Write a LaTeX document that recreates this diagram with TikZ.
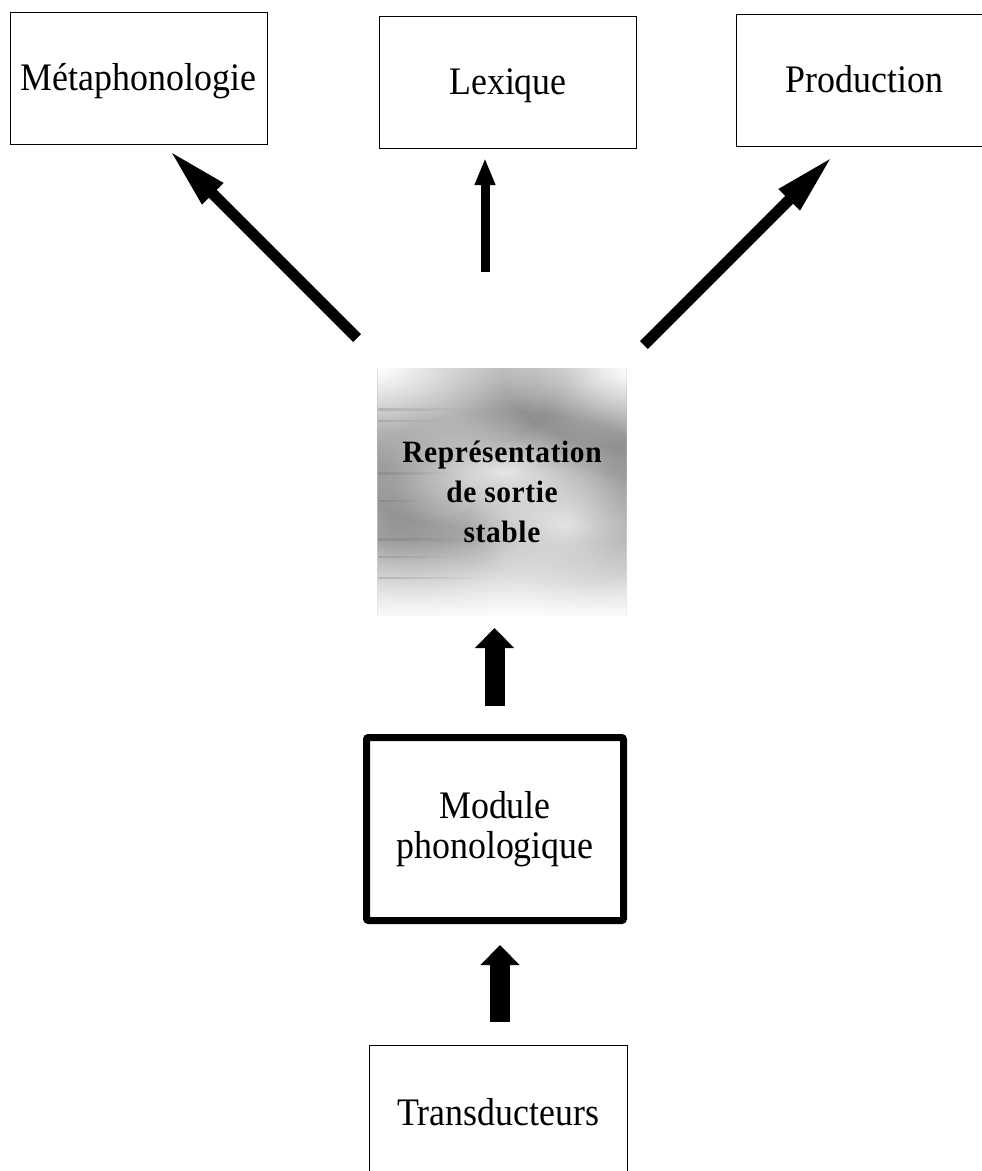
\documentclass[tikz,border=0pt]{standalone}
\usepackage{fontspec}
\setmainfont{Liberation Serif}
\newfontfamily\boxfont[FakeStretch=0.92]{Liberation Serif}
\newfontfamily\stablefont[LetterSpace=2,FakeStretch=0.95]{Liberation Serif}
\usetikzlibrary{arrows.meta}
\usetikzlibrary{fadings, backgrounds}

\tikzfading[name=softblob, inner color=transparent!0, outer color=transparent!100]
\tikzfading[name=fadeup, top color=transparent!100, bottom color=transparent!0]
\tikzfading[name=faderight, left color=transparent!0, right color=transparent!100]

\begin{document}
\begin{tikzpicture}[x=1pt,y=-1pt,
	box/.style={draw=black,line width=1pt,minimum width=257pt,minimum height=132pt,inner sep=0pt,
		font=\boxfont\fontsize{39}{40}\selectfont,text height=28pt,text depth=4pt},
	thickbox/.style={draw=black,line width=7pt,rounded corners=2pt,minimum width=257pt,minimum height=183pt,
		inner sep=0pt,align=center,font=\boxfont\fontsize{39}{40}\selectfont},
	stablebox/.style={minimum width=249pt,minimum height=247pt,inner sep=0pt,align=center,
		font=\stablefont\bfseries\fontsize{31}{40}\selectfont},
	cloudbit/.style={path fading=softblob},
	streak/.style={black!60,line width=2pt,opacity=.25,path fading=faderight},
	diagarrow/.style={line width=11pt,-{Triangle[width=27pt,length=62pt]}},
	slimarrow/.style={line width=9pt,-{Triangle[width=19pt,length=27pt]}},
	fatarrow/.style={line width=20pt,-{Triangle[width=38pt,length=20pt]}}]
\useasboundingbox (0,0) rectangle (982,1171);
\clip (0,0) rectangle (982,1171);

% top row
\node[box] (meta) at (138.5,78) {Métaphonologie};
\node[box] (lexique) at (508,82) {Lexique};
\node[box] (prod) at (864.5,80) {Production};

% output representation
\node[stablebox] (stable) at (502,492) {Représentation\\de sortie\\stable};
\begin{scope}[on background layer]
	\clip (stable.north west) rectangle (stable.south east);
	\fill[black!40,cloudbit] (500,470) ellipse (300 and 270);
	\fill[black!50,cloudbit] (480,405) ellipse (170 and 90);
	\fill[black!45,cloudbit] (400,480) ellipse (110 and 220);
	\fill[black!45,cloudbit] (610,470) ellipse (100 and 210);
	\fill[black!55,cloudbit] (565,445) ellipse (110 and 80);
	\fill[black!50,cloudbit] (420,430) ellipse (90 and 80);
	\fill[white,cloudbit,fill opacity=.8] (505,472) ellipse (150 and 60);
	\fill[white,cloudbit,fill opacity=.7] (565,525) ellipse (100 and 60);
	\fill[white,cloudbit] (378,368) ellipse (190 and 100);
	\fill[white,cloudbit] (630,368) ellipse (130 and 80);
	\fill[white,path fading=fadeup] (370,540) rectangle (632,620);
	\fill[streak] (378,408) rectangle (470,411);
	\fill[streak] (378,420) rectangle (440,422);
	\fill[streak] (378,472) rectangle (450,475);
	\fill[streak] (378,500) rectangle (430,502);
	\fill[streak] (378,538) rectangle (470,541);
	\fill[streak] (378,556) rectangle (450,558);
	\fill[streak] (378,577) rectangle (490,579);
\end{scope}

% lower part
\node[thickbox] (module) at (495,829) {Module\\phonologique};
\node[box,minimum width=258pt,minimum height=136pt] (trans) at (498,1113) {Transducteurs};

% arrow ends
\coordinate (metaTail) at (357,338);
\coordinate (metaTip) at (169,150);
\coordinate (lexTail) at (485,272);
\coordinate (lexTip) at (485,158);
\coordinate (prodTail) at (644,345);
\coordinate (prodTip) at (833,156);
\coordinate (modTail) at (494.5,706);
\coordinate (modTip) at (494.5,628);
\coordinate (transTail) at (500,1022);
\coordinate (transTip) at (500,945);

\draw[diagarrow] (metaTail) -- (metaTip);
\draw[slimarrow] (lexTail) -- (lexTip);
\draw[diagarrow] (prodTail) -- (prodTip);
\draw[fatarrow] (modTail) -- (modTip);
\draw[fatarrow] (transTail) -- (transTip);
\end{tikzpicture}
\end{document}
